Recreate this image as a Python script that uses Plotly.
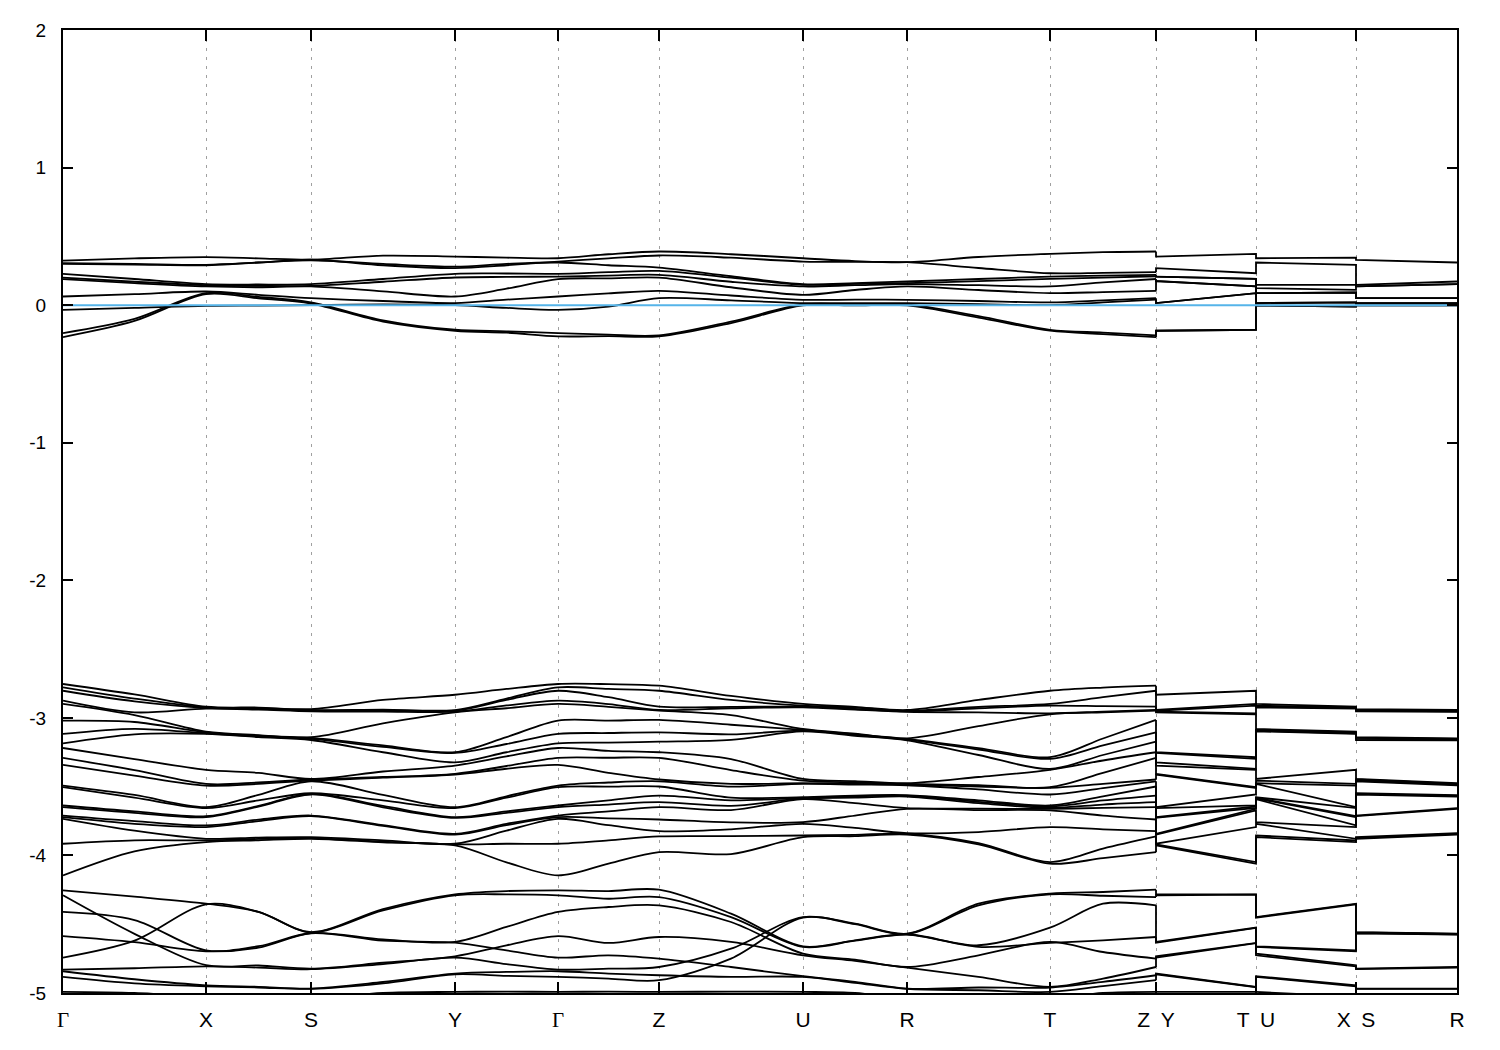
import plotly.graph_objects as go

# k-path (path-length units) and labels
K_NODES = [0, 143, 248, 392, 495, 596, 740, 844, 987, 1093, 1193, 1293, 1394]
K_LABELS = ['<span style="font-family:Liberation Serif">Γ</span>', "X", "S", "Y",
            '<span style="font-family:Liberation Serif">Γ</span>', "Z", "U", "R", "T",
            "Z\u2002Y", "T\u2002U", "X\u2002S", "R"]
Y_TICKS = [-5, -4, -3, -2, -1, 0, 1, 2]
Y_LABELS = ["-5", "-4", "-3", "-2", "-1", "0", "1", "2"]

# Energies (eV). Each list: 10 upper bands, 20 middle bands, 9 lower bands.
MID_G = [-2.754, -2.778, -2.803, -2.875, -2.899, -3.020, -3.117, -3.185, -3.219, -3.291,
         -3.342, -3.492, -3.504, -3.637, -3.649, -3.710, -3.722, -3.734, -3.915, -4.145]
MID_X = [-2.919, -2.924, -2.928, -2.933, -3.100, -3.105, -3.112, -3.117, -3.378, -3.480,
         -3.492, -3.649, -3.656, -3.715, -3.722, -3.782, -3.794, -3.879, -3.891, -3.903]
MID_S = [-2.936, -2.943, -2.948, -2.953, -3.141, -3.146, -3.153, -3.161, -3.444, -3.448,
         -3.456, -3.461, -3.548, -3.552, -3.557, -3.710, -3.715, -3.867, -3.874, -3.879]
MID_Y = [-2.832, -2.943, -2.948, -2.955, -2.960, -3.250, -3.255, -3.323, -3.347, -3.407,
         -3.412, -3.649, -3.656, -3.722, -3.727, -3.843, -3.848, -3.915, -3.920, -3.927]
MID_Z = [-2.766, -2.803, -2.919, -2.943, -2.948, -3.015, -3.105, -3.173, -3.250, -3.291,
         -3.448, -3.461, -3.499, -3.565, -3.613, -3.649, -3.739, -3.823, -3.862, -3.976]
MID_U = [-2.899, -2.911, -2.919, -2.924, -3.081, -3.088, -3.093, -3.098, -3.444, -3.456,
         -3.475, -3.480, -3.577, -3.581, -3.586, -3.591, -3.758, -3.770, -3.855, -3.867]
MID_R = [-2.943, -2.948, -2.953, -2.957, -3.149, -3.153, -3.158, -3.163, -3.475, -3.480,
         -3.485, -3.490, -3.562, -3.567, -3.572, -3.656, -3.661, -3.838, -3.843, -3.848]
MID_T = [-2.803, -2.899, -2.911, -2.967, -2.974, -3.286, -3.298, -3.371, -3.378, -3.504,
         -3.509, -3.557, -3.637, -3.644, -3.654, -3.661, -3.673, -3.794, -4.048, -4.060]

E_G1 = ([0.324, 0.305, 0.30, 0.228, 0.20, 0.189, 0.063, -0.034, -0.203, -0.232] + MID_G +
        [-4.254, -4.290, -4.411, -4.586, -4.743, -4.830, -4.842, -4.883, -4.992])
E_GX = ([0.34, 0.30, 0.295, 0.19, 0.17, 0.16, 0.08, -0.02, -0.10, -0.115] +
        [-2.83, -2.86, -2.88, -2.96, -2.98, -3.03, -3.08, -3.12, -3.30, -3.38,
         -3.42, -3.56, -3.58, -3.68, -3.69, -3.75, -3.77, -3.82, -3.89, -3.97] +
        [-4.30, -4.57, -4.47, -4.63, -4.62, -4.82, -4.90, -4.93, -5.0])
E_X = ([0.349, 0.293, 0.29, 0.153, 0.145, 0.136, 0.099, -0.005, 0.087, 0.08] + MID_X +
       [-4.351, -4.798, -4.690, -4.697, -4.356, -4.806, -4.944, -4.951, -5.028])
E_XS = ([0.34, 0.31, 0.31, 0.15, 0.14, 0.13, 0.075, -0.003, 0.06, 0.05] +
        [-2.925, -2.93, -2.935, -2.94, -3.125, -3.13, -3.135, -3.14, -3.40, -3.47,
         -3.48, -3.56, -3.60, -3.64, -3.645, -3.74, -3.75, -3.87, -3.88, -3.89] +
        [-4.41, -4.80, -4.66, -4.67, -4.41, -4.815, -4.955, -4.96, -5.035])
E_S = ([0.33, 0.33, 0.325, 0.153, 0.14, 0.136, 0.051, 0.0, 0.02, 0.012] + MID_S +
       [-4.557, -4.823, -4.564, -4.566, -4.559, -4.827, -4.968, -4.970, -5.04])
E_SY = ([0.36, 0.29, 0.30, 0.19, 0.17, 0.10, 0.03, 0.005, -0.11, -0.12] +
        [-2.87, -2.94, -2.945, -2.955, -3.04, -3.20, -3.21, -3.25, -3.39, -3.43,
         -3.435, -3.56, -3.60, -3.64, -3.65, -3.78, -3.785, -3.89, -3.90, -3.905] +
        [-4.39, -4.78, -4.61, -4.62, -4.40, -4.79, -4.92, -4.93, -5.0])
E_Y = ([0.353, 0.269, 0.28, 0.228, 0.201, 0.063, 0.015, 0.0, -0.179, -0.186] + MID_Y +
       [-4.283, -4.733, -4.629, -4.634, -4.290, -4.743, -4.859, -4.864, -4.992])
E_YG = ([0.345, 0.29, 0.30, 0.23, 0.205, 0.12, 0.04, -0.02, -0.19, -0.20] +
        [-2.79, -2.86, -2.87, -2.91, -2.93, -3.14, -3.19, -3.25, -3.28, -3.35,
         -3.37, -3.57, -3.58, -3.68, -3.69, -3.77, -3.78, -3.82, -3.915, -4.05] +
        [-4.259, -4.653, -4.52, -4.69, -4.283, -4.79, -4.847, -4.875, -4.99])
E_G2 = ([0.341, 0.317, 0.31, 0.228, 0.208, 0.189, 0.063, -0.034, -0.203, -0.227] + MID_G +
        [-4.254, -4.586, -4.411, -4.743, -4.290, -4.830, -4.842, -4.883, -4.992])
E_GZ = ([0.37, 0.34, 0.29, 0.24, 0.215, 0.195, 0.085, -0.01, -0.215, -0.225] +
        [-2.755, -2.79, -2.85, -2.90, -2.92, -3.02, -3.11, -3.18, -3.24, -3.29,
         -3.40, -3.47, -3.50, -3.60, -3.63, -3.68, -3.73, -3.78, -3.89, -4.06] +
        [-4.259, -4.636, -4.375, -4.726, -4.315, -4.823, -4.859, -4.895, -4.99])
E_Z = ([0.39, 0.361, 0.273, 0.249, 0.22, 0.20, 0.104, 0.051, -0.22, -0.227] + MID_Z +
       [-4.249, -4.593, -4.363, -4.750, -4.303, -4.811, -4.871, -4.907, -4.992])
E_ZU = ([0.37, 0.345, 0.21, 0.20, 0.17, 0.13, 0.07, 0.035, -0.12, -0.13] +
        [-2.84, -2.87, -2.92, -2.93, -2.98, -3.05, -3.12, -3.16, -3.30, -3.38,
         -3.48, -3.50, -3.58, -3.60, -3.64, -3.67, -3.76, -3.81, -3.86, -3.99] +
        [-4.423, -4.629, -4.484, -4.811, -4.448, -4.678, -4.883, -4.75, -4.99])
E_U = ([0.341, 0.317, 0.153, 0.148, 0.136, 0.075, 0.039, 0.015, 0.005, -0.002] + MID_U +
       [-4.661, -4.726, -4.714, -4.878, -4.665, -4.448, -4.883, -4.452, -4.992])
E_UR = ([0.32, 0.314, 0.16, 0.155, 0.145, 0.11, 0.04, 0.015, 0.005, -0.002] +
        [-2.92, -2.925, -2.935, -2.94, -3.115, -3.12, -3.125, -3.13, -3.46, -3.47,
         -3.48, -3.485, -3.565, -3.57, -3.58, -3.62, -3.71, -3.80, -3.85, -3.86] +
        [-4.617, -4.767, -4.757, -4.919, -4.62, -4.496, -4.926, -4.50, -5.0])
E_R = ([0.312, 0.312, 0.172, 0.16, 0.153, 0.136, 0.039, 0.015, 0.005, -0.002] + MID_R +
       [-4.573, -4.815, -4.811, -4.968, -4.576, -4.569, -4.970, -4.571, -5.04])
E_RT = ([0.35, 0.27, 0.19, 0.175, 0.145, 0.11, 0.03, 0.008, -0.08, -0.09] +
        [-2.87, -2.92, -2.93, -2.96, -3.06, -3.22, -3.23, -3.27, -3.43, -3.49,
         -3.50, -3.52, -3.60, -3.61, -3.62, -3.66, -3.67, -3.83, -3.91, -3.92] +
        [-4.653, -4.883, -4.726, -4.96, -4.665, -4.351, -4.98, -4.363, -5.04])
E_T = ([0.373, 0.232, 0.208, 0.191, 0.136, 0.087, 0.02, 0.0, -0.179, -0.186] + MID_T +
       [-4.525, -4.956, -4.629, -4.960, -4.636, -4.278, -4.992, -4.283, -5.04])
E_TZ = ([0.385, 0.235, 0.215, 0.20, 0.165, 0.095, 0.035, 0.02, -0.20, -0.21] +
        [-2.78, -2.85, -2.915, -2.955, -2.96, -3.15, -3.20, -3.27, -3.31, -3.40,
         -3.48, -3.51, -3.57, -3.60, -3.63, -3.655, -3.71, -3.81, -3.95, -4.02] +
        [-4.351, -4.895, -4.702, -4.919, -4.617, -4.266, -4.95, -4.293, -5.0])
E_Z2 = ([0.39, 0.24, 0.22, 0.21, 0.19, 0.104, 0.051, 0.04, -0.22, -0.232] + MID_Z +
        [-4.363, -4.811, -4.750, -4.871, -4.593, -4.249, -4.907, -4.303, -4.992])

# after the Z|Y, T|U, X|S breaks
B_Y = ([0.353, 0.269, 0.208, 0.208, 0.175, 0.175, 0.015, 0.015, -0.186, -0.186] + MID_Y +
       [-4.629, -4.743, -4.733, -4.859, -4.634, -4.283, -4.864, -4.290, -4.992])
B_T = ([0.373, 0.232, 0.191, 0.191, 0.136, 0.136, 0.087, 0.087, -0.179, -0.179] + MID_T +
       [-4.525, -4.638, -4.636, -4.956, -4.527, -4.283, -4.958, -4.285, -4.992])
B_U = ([0.341, 0.310, 0.148, 0.124, 0.087, 0.087, 0.015, 0.015, -0.002, -0.002] + MID_U +
       [-4.661, -4.726, -4.714, -4.878, -4.665, -4.448, -4.883, -4.452, -4.992])
B_X = ([0.345, 0.293, 0.148, 0.111, 0.092, 0.092, 0.02, 0.02, -0.01, -0.01] + MID_X +
       [-4.690, -4.806, -4.798, -4.944, -4.697, -4.351, -4.951, -4.356, -5.028])
B_S = ([0.329, 0.148, 0.136, 0.136, 0.051, 0.051, 0.015, 0.015, -0.002, -0.002] + MID_S +
       [-4.564, -4.827, -4.823, -4.968, -4.566, -4.557, -4.970, -4.559, -5.04])
B_R = ([0.310, 0.172, 0.153, 0.153, 0.051, 0.051, 0.015, 0.015, -0.002, -0.002] + MID_R +
       [-4.573, -4.815, -4.811, -4.968, -4.576, -4.569, -4.970, -4.571, -5.04])

MAIN_COLS = [E_G1, E_GX, E_X, E_XS, E_S, E_SY, E_Y, E_YG, E_G2, E_GZ,
             E_Z, E_ZU, E_U, E_UR, E_R, E_RT, E_T, E_TZ, E_Z2]
TAIL_COLS = [B_Y, B_T, B_U, B_X, B_S, B_R]

# x positions of the sample columns
x_main = []
for i in range(9):
    x_main.append(K_NODES[i])
    x_main.append((K_NODES[i] + K_NODES[i + 1]) / 2)
x_main.append(K_NODES[9])
x_tail = [K_NODES[9], K_NODES[9], K_NODES[10], K_NODES[10], K_NODES[11], K_NODES[11], K_NODES[12]]

fig = go.Figure()
n_bands = len(E_G1)
line_style = dict(color="black", width=1.8)
for b in range(n_bands):
    ym = [col[b] for col in MAIN_COLS]
    fig.add_trace(go.Scatter(x=x_main, y=ym, mode="lines",
                             line=dict(shape="spline", smoothing=0.9, **line_style),
                             hoverinfo="skip", showlegend=False))
    yt = [E_Z2[b]] + [col[b] for col in TAIL_COLS]
    fig.add_trace(go.Scatter(x=x_tail, y=yt, mode="lines",
                             line=dict(shape="linear", **line_style),
                             hoverinfo="skip", showlegend=False))

# Fermi level
fig.add_trace(go.Scatter(x=[K_NODES[0], K_NODES[-1]], y=[0, 0], mode="lines",
                         line=dict(color="#56b4e9", width=2),
                         hoverinfo="skip", showlegend=False))

font = dict(family="Liberation Sans, Arial, sans-serif", size=20, color="black")
fig.update_layout(
    width=1492, height=1042,
    margin=dict(l=55, r=43, t=20, b=57),
    paper_bgcolor="white", plot_bgcolor="white",
    font=font,
    xaxis=dict(range=[K_NODES[0], K_NODES[-1]], tickmode="array",
               tickvals=K_NODES, ticktext=K_LABELS, tickfont=dict(size=21),
               ticks="inside", ticklen=11, tickwidth=2, tickcolor="black",
               showgrid=True, gridcolor="#a0a0a0", gridwidth=1, griddash="3px,6px",
               showline=True, linewidth=2, linecolor="black", mirror="ticks",
               zeroline=False, ticklabelstandoff=7),
    yaxis=dict(range=[-5, 2], tickmode="array", tickvals=Y_TICKS, ticktext=Y_LABELS,
               tickfont=dict(size=19),
               ticks="inside", ticklen=10, tickwidth=2, tickcolor="black",
               showgrid=False, zeroline=False,
               showline=True, linewidth=2, linecolor="black", mirror="ticks",
               ticklabelstandoff=11),
)

fig.write_html("out.html")
